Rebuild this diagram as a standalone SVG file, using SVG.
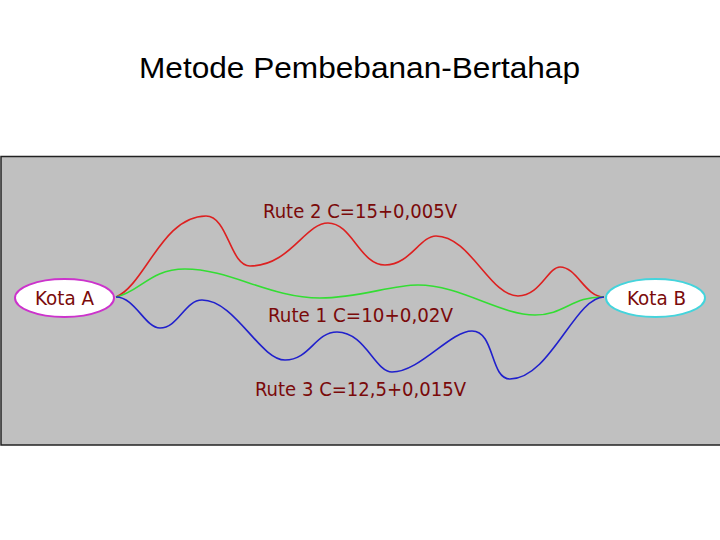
<svg xmlns="http://www.w3.org/2000/svg" width="720" height="540" viewBox="0 0 720 540">
<style>
.title{font-family:"Liberation Sans",Arial,sans-serif;font-size:30px;fill:#000}
.lbl{font-family:"DejaVu Sans Condensed","DejaVu Sans",sans-serif;font-size:19px;fill:#7a0a0a}
.kota{font-size:20px}
.route{fill:none;stroke-width:1.6}
.node{fill:#fff;stroke-width:2}
</style>
<rect x="0" y="0" width="720" height="540" fill="#fff"/>
<text class="title" x="139" y="78" textLength="441" lengthAdjust="spacingAndGlyphs">Metode Pembebanan-Bertahap</text>
<rect x="1" y="156.5" width="722" height="288.5" fill="#c0c0c0" stroke="#222" stroke-width="1.5"/>
<g id="connectors">
<path id="rute2" class="route" stroke="#dd2020" d="M116,297 C145,285 162,216 206,216 C228,216 230,266 250,266 C290,266 305,223 328,223 C352,223 360,265 385,265 C410,265 420,236 436,236 C470,236 490,296 518,296 C540,296 548,267 560,267 C577,267 585,297 604,297"/>
<path id="rute1" class="route" stroke="#33dd33" d="M116,297 C140,292 150,269 185,269 C230,269 270,298 320,298 C360,298 390,285 418,285 C460,285 500,315 535,315 C565,315 572,296 604,297"/>
<path id="rute3" class="route" stroke="#2020cc" d="M116,297 C135,297 145,328 160,328 C178,328 185,300 202,300 C235,300 260,360 285,360 C310,360 315,332 337,332 C365,332 375,372 392,372 C420,372 450,331 472,331 C495,331 490,379 510,379 C550,379 575,297 604,297"/>
</g>
<text class="lbl" x="263" y="218" textLength="194" lengthAdjust="spacingAndGlyphs">Rute 2 C=15+0,005V</text>
<text class="lbl" x="268" y="322" textLength="185" lengthAdjust="spacingAndGlyphs">Rute 1 C=10+0,02V</text>
<text class="lbl" x="255" y="396" textLength="211" lengthAdjust="spacingAndGlyphs">Rute 3 C=12,5+0,015V</text>
<g id="kotaA">
<ellipse class="node" cx="64.5" cy="298" rx="49.5" ry="19" stroke="#cc33cc"/>
<text class="lbl kota" x="35" y="305" textLength="59" lengthAdjust="spacingAndGlyphs">Kota A</text>
</g>
<g id="kotaB">
<ellipse class="node" cx="655.5" cy="298" rx="49.5" ry="19" stroke="#44d4dc"/>
<text class="lbl kota" x="627" y="305" textLength="59" lengthAdjust="spacingAndGlyphs">Kota B</text>
</g>
</svg>
